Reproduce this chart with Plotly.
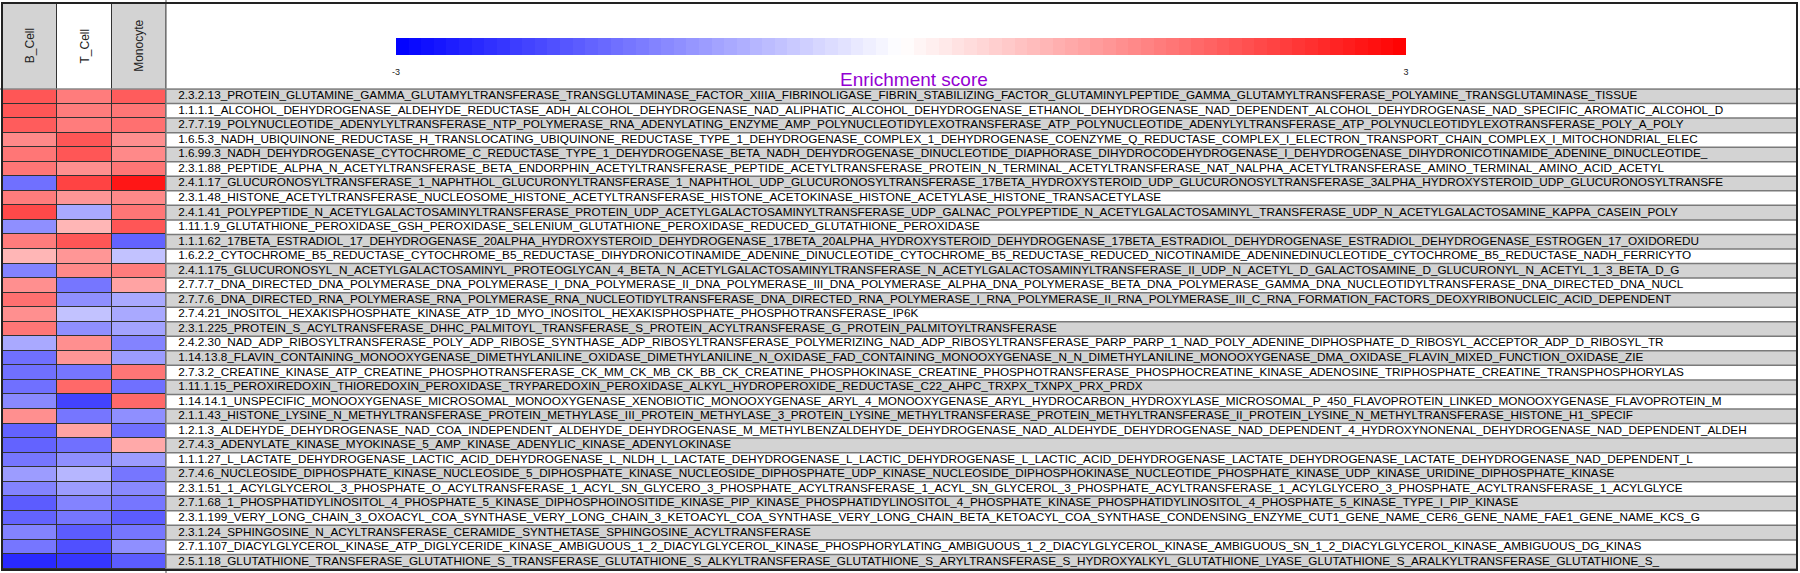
import plotly.graph_objects as go

W, H = 1800, 573

samples = ["B_Cell", "T_Cell", "Monocyte"]

pathways = [
    "2.3.2.13_PROTEIN_GLUTAMINE_GAMMA_GLUTAMYLTRANSFERASE_TRANSGLUTAMINASE_FACTOR_XIIIA_FIBRINOLIGASE_FIBRIN_STABILIZING_FACTOR_GLUTAMINYLPEPTIDE_GAMMA_GLUTAMYLTRANSFERASE_POLYAMINE_TRANSGLUTAMINASE_TISSUE",
    "1.1.1.1_ALCOHOL_DEHYDROGENASE_ALDEHYDE_REDUCTASE_ADH_ALCOHOL_DEHYDROGENASE_NAD_ALIPHATIC_ALCOHOL_DEHYDROGENASE_ETHANOL_DEHYDROGENASE_NAD_DEPENDENT_ALCOHOL_DEHYDROGENASE_NAD_SPECIFIC_AROMATIC_ALCOHOL_D",
    "2.7.7.19_POLYNUCLEOTIDE_ADENYLYLTRANSFERASE_NTP_POLYMERASE_RNA_ADENYLATING_ENZYME_AMP_POLYNUCLEOTIDYLEXOTRANSFERASE_ATP_POLYNUCLEOTIDE_ADENYLYLTRANSFERASE_ATP_POLYNUCLEOTIDYLEXOTRANSFERASE_POLY_A_POLY",
    "1.6.5.3_NADH_UBIQUINONE_REDUCTASE_H_TRANSLOCATING_UBIQUINONE_REDUCTASE_TYPE_1_DEHYDROGENASE_COMPLEX_1_DEHYDROGENASE_COENZYME_Q_REDUCTASE_COMPLEX_I_ELECTRON_TRANSPORT_CHAIN_COMPLEX_I_MITOCHONDRIAL_ELEC",
    "1.6.99.3_NADH_DEHYDROGENASE_CYTOCHROME_C_REDUCTASE_TYPE_1_DEHYDROGENASE_BETA_NADH_DEHYDROGENASE_DINUCLEOTIDE_DIAPHORASE_DIHYDROCODEHYDROGENASE_I_DEHYDROGENASE_DIHYDRONICOTINAMIDE_ADENINE_DINUCLEOTIDE_",
    "2.3.1.88_PEPTIDE_ALPHA_N_ACETYLTRANSFERASE_BETA_ENDORPHIN_ACETYLTRANSFERASE_PEPTIDE_ACETYLTRANSFERASE_PROTEIN_N_TERMINAL_ACETYLTRANSFERASE_NAT_NALPHA_ACETYLTRANSFERASE_AMINO_TERMINAL_AMINO_ACID_ACETYL",
    "2.4.1.17_GLUCURONOSYLTRANSFERASE_1_NAPHTHOL_GLUCURONYLTRANSFERASE_1_NAPHTHOL_UDP_GLUCURONOSYLTRANSFERASE_17BETA_HYDROXYSTEROID_UDP_GLUCURONOSYLTRANSFERASE_3ALPHA_HYDROXYSTEROID_UDP_GLUCURONOSYLTRANSFE",
    "2.3.1.48_HISTONE_ACETYLTRANSFERASE_NUCLEOSOME_HISTONE_ACETYLTRANSFERASE_HISTONE_ACETOKINASE_HISTONE_ACETYLASE_HISTONE_TRANSACETYLASE",
    "2.4.1.41_POLYPEPTIDE_N_ACETYLGALACTOSAMINYLTRANSFERASE_PROTEIN_UDP_ACETYLGALACTOSAMINYLTRANSFERASE_UDP_GALNAC_POLYPEPTIDE_N_ACETYLGALACTOSAMINYL_TRANSFERASE_UDP_N_ACETYLGALACTOSAMINE_KAPPA_CASEIN_POLY",
    "1.11.1.9_GLUTATHIONE_PEROXIDASE_GSH_PEROXIDASE_SELENIUM_GLUTATHIONE_PEROXIDASE_REDUCED_GLUTATHIONE_PEROXIDASE",
    "1.1.1.62_17BETA_ESTRADIOL_17_DEHYDROGENASE_20ALPHA_HYDROXYSTEROID_DEHYDROGENASE_17BETA_20ALPHA_HYDROXYSTEROID_DEHYDROGENASE_17BETA_ESTRADIOL_DEHYDROGENASE_ESTRADIOL_DEHYDROGENASE_ESTROGEN_17_OXIDOREDU",
    "1.6.2.2_CYTOCHROME_B5_REDUCTASE_CYTOCHROME_B5_REDUCTASE_DIHYDRONICOTINAMIDE_ADENINE_DINUCLEOTIDE_CYTOCHROME_B5_REDUCTASE_REDUCED_NICOTINAMIDE_ADENINEDINUCLEOTIDE_CYTOCHROME_B5_REDUCTASE_NADH_FERRICYTO",
    "2.4.1.175_GLUCURONOSYL_N_ACETYLGALACTOSAMINYL_PROTEOGLYCAN_4_BETA_N_ACETYLGALACTOSAMINYLTRANSFERASE_N_ACETYLGALACTOSAMINYLTRANSFERASE_II_UDP_N_ACETYL_D_GALACTOSAMINE_D_GLUCURONYL_N_ACETYL_1_3_BETA_D_G",
    "2.7.7.7_DNA_DIRECTED_DNA_POLYMERASE_DNA_POLYMERASE_I_DNA_POLYMERASE_II_DNA_POLYMERASE_III_DNA_POLYMERASE_ALPHA_DNA_POLYMERASE_BETA_DNA_POLYMERASE_GAMMA_DNA_NUCLEOTIDYLTRANSFERASE_DNA_DIRECTED_DNA_NUCL",
    "2.7.7.6_DNA_DIRECTED_RNA_POLYMERASE_RNA_POLYMERASE_RNA_NUCLEOTIDYLTRANSFERASE_DNA_DIRECTED_RNA_POLYMERASE_I_RNA_POLYMERASE_II_RNA_POLYMERASE_III_C_RNA_FORMATION_FACTORS_DEOXYRIBONUCLEIC_ACID_DEPENDENT",
    "2.7.4.21_INOSITOL_HEXAKISPHOSPHATE_KINASE_ATP_1D_MYO_INOSITOL_HEXAKISPHOSPHATE_PHOSPHOTRANSFERASE_IP6K",
    "2.3.1.225_PROTEIN_S_ACYLTRANSFERASE_DHHC_PALMITOYL_TRANSFERASE_S_PROTEIN_ACYLTRANSFERASE_G_PROTEIN_PALMITOYLTRANSFERASE",
    "2.4.2.30_NAD_ADP_RIBOSYLTRANSFERASE_POLY_ADP_RIBOSE_SYNTHASE_ADP_RIBOSYLTRANSFERASE_POLYMERIZING_NAD_ADP_RIBOSYLTRANSFERASE_PARP_PARP_1_NAD_POLY_ADENINE_DIPHOSPHATE_D_RIBOSYL_ACCEPTOR_ADP_D_RIBOSYL_TR",
    "1.14.13.8_FLAVIN_CONTAINING_MONOOXYGENASE_DIMETHYLANILINE_OXIDASE_DIMETHYLANILINE_N_OXIDASE_FAD_CONTAINING_MONOOXYGENASE_N_N_DIMETHYLANILINE_MONOOXYGENASE_DMA_OXIDASE_FLAVIN_MIXED_FUNCTION_OXIDASE_ZIE",
    "2.7.3.2_CREATINE_KINASE_ATP_CREATINE_PHOSPHOTRANSFERASE_CK_MM_CK_MB_CK_BB_CK_CREATINE_PHOSPHOKINASE_CREATINE_PHOSPHOTRANSFERASE_PHOSPHOCREATINE_KINASE_ADENOSINE_TRIPHOSPHATE_CREATINE_TRANSPHOSPHORYLAS",
    "1.11.1.15_PEROXIREDOXIN_THIOREDOXIN_PEROXIDASE_TRYPAREDOXIN_PEROXIDASE_ALKYL_HYDROPEROXIDE_REDUCTASE_C22_AHPC_TRXPX_TXNPX_PRX_PRDX",
    "1.14.14.1_UNSPECIFIC_MONOOXYGENASE_MICROSOMAL_MONOOXYGENASE_XENOBIOTIC_MONOOXYGENASE_ARYL_4_MONOOXYGENASE_ARYL_HYDROCARBON_HYDROXYLASE_MICROSOMAL_P_450_FLAVOPROTEIN_LINKED_MONOOXYGENASE_FLAVOPROTEIN_M",
    "2.1.1.43_HISTONE_LYSINE_N_METHYLTRANSFERASE_PROTEIN_METHYLASE_III_PROTEIN_METHYLASE_3_PROTEIN_LYSINE_METHYLTRANSFERASE_PROTEIN_METHYLTRANSFERASE_II_PROTEIN_LYSINE_N_METHYLTRANSFERASE_HISTONE_H1_SPECIF",
    "1.2.1.3_ALDEHYDE_DEHYDROGENASE_NAD_COA_INDEPENDENT_ALDEHYDE_DEHYDROGENASE_M_METHYLBENZALDEHYDE_DEHYDROGENASE_NAD_ALDEHYDE_DEHYDROGENASE_NAD_DEPENDENT_4_HYDROXYNONENAL_DEHYDROGENASE_NAD_DEPENDENT_ALDEH",
    "2.7.4.3_ADENYLATE_KINASE_MYOKINASE_5_AMP_KINASE_ADENYLIC_KINASE_ADENYLOKINASE",
    "1.1.1.27_L_LACTATE_DEHYDROGENASE_LACTIC_ACID_DEHYDROGENASE_L_NLDH_L_LACTATE_DEHYDROGENASE_L_LACTIC_DEHYDROGENASE_L_LACTIC_ACID_DEHYDROGENASE_LACTATE_DEHYDROGENASE_LACTATE_DEHYDROGENASE_NAD_DEPENDENT_L",
    "2.7.4.6_NUCLEOSIDE_DIPHOSPHATE_KINASE_NUCLEOSIDE_5_DIPHOSPHATE_KINASE_NUCLEOSIDE_DIPHOSPHATE_UDP_KINASE_NUCLEOSIDE_DIPHOSPHOKINASE_NUCLEOTIDE_PHOSPHATE_KINASE_UDP_KINASE_URIDINE_DIPHOSPHATE_KINASE",
    "2.3.1.51_1_ACYLGLYCEROL_3_PHOSPHATE_O_ACYLTRANSFERASE_1_ACYL_SN_GLYCERO_3_PHOSPHATE_ACYLTRANSFERASE_1_ACYL_SN_GLYCEROL_3_PHOSPHATE_ACYLTRANSFERASE_1_ACYLGLYCERO_3_PHOSPHATE_ACYLTRANSFERASE_1_ACYLGLYCE",
    "2.7.1.68_1_PHOSPHATIDYLINOSITOL_4_PHOSPHATE_5_KINASE_DIPHOSPHOINOSITIDE_KINASE_PIP_KINASE_PHOSPHATIDYLINOSITOL_4_PHOSPHATE_KINASE_PHOSPHATIDYLINOSITOL_4_PHOSPHATE_5_KINASE_TYPE_I_PIP_KINASE",
    "2.3.1.199_VERY_LONG_CHAIN_3_OXOACYL_COA_SYNTHASE_VERY_LONG_CHAIN_3_KETOACYL_COA_SYNTHASE_VERY_LONG_CHAIN_BETA_KETOACYL_COA_SYNTHASE_CONDENSING_ENZYME_CUT1_GENE_NAME_CER6_GENE_NAME_FAE1_GENE_NAME_KCS_G",
    "2.3.1.24_SPHINGOSINE_N_ACYLTRANSFERASE_CERAMIDE_SYNTHETASE_SPHINGOSINE_ACYLTRANSFERASE",
    "2.7.1.107_DIACYLGLYCEROL_KINASE_ATP_DIGLYCERIDE_KINASE_AMBIGUOUS_1_2_DIACYLGLYCEROL_KINASE_PHOSPHORYLATING_AMBIGUOUS_1_2_DIACYLGLYCEROL_KINASE_AMBIGUOUS_SN_1_2_DIACYLGLYCEROL_KINASE_AMBIGUOUS_DG_KINAS",
    "2.5.1.18_GLUTATHIONE_TRANSFERASE_GLUTATHIONE_S_TRANSFERASE_GLUTATHIONE_S_ALKYLTRANSFERASE_GLUTATHIONE_S_ARYLTRANSFERASE_S_HYDROXYALKYL_GLUTATHIONE_LYASE_GLUTATHIONE_S_ARALKYLTRANSFERASE_GLUTATHIONE_S_",
]

b_cell = [2.0, 2.0, 1.9, 1.4, 1.6, 1.6, -1.7, 1.5, 2.1, -1.3, 1.5, 0.9, -1.5, 1.3, 1.7, 1.3, 1.6,
          -1.0, -1.7, -1.7, -1.7, -1.4, 1.3, -1.8, -1.8, -1.6, -1.2, -1.5, -1.9, -1.8, -1.5, -1.6, -2.5]
t_cell = [1.5, 1.5, 1.5, 2.0, 2.0, 1.3, 2.2, 1.2, -1.0, 0.9, 2.0, 1.2, 1.4, -1.6, -1.3, -0.7, -1.3,
          1.3, 1.2, -1.6, 1.8, -2.2, -1.6, 1.1, -1.7, -1.3, -0.9, -1.2, -1.5, -1.6, -1.9, -2.1, -2.4]
monocyte = [1.9, 1.6, 1.7, 1.3, 1.4, 1.6, 2.7, 1.4, 1.6, 2.0, -1.8, -0.7, 1.5, 1.1, -1.0, -1.0, -1.1,
            -1.5, -1.2, 1.6, -1.7, 1.8, -1.3, -1.7, 1.0, -1.2, -1.6, -1.4, -1.6, -1.9, -1.6, -1.3, -1.9]

score_min, score_max = -3, 3
cbar_ticks = [-3, 3]
cbar_title = "Enrichment score"


def px_x(x):
    return x / W


def px_y(y):
    return 1 - y / H


# stepped blue-white-red palette
n_steps = 80
def ramp(t):
    if t < 0.5:
        f = t / 0.5
        return (round(255 * f), round(255 * f), 255)
    f = (t - 0.5) / 0.5
    return (255, round(255 * (1 - f)), round(255 * (1 - f)))

colorscale = []
for i in range(n_steps):
    r, g, b = ramp((i + 0.5) / n_steps)
    c = f"rgb({r},{g},{b})"
    colorscale.append([i / n_steps, c])
    colorscale.append([(i + 1) / n_steps, c])

n = len(pathways)
rows = list(range(n))
z = [[b_cell[i], t_cell[i], monocyte[i]] for i in rows]

FONT = "Arial, Liberation Sans, sans-serif"

fig = go.Figure()

# main heatmap
fig.add_trace(go.Heatmap(
    z=z, x=samples, y=rows, xaxis="x", yaxis="y",
    zmin=score_min, zmax=score_max, colorscale=colorscale,
    xgap=1, ygap=1, hoverongaps=False,
    colorbar=dict(
        orientation="h", x=px_x(901), xanchor="center", y=px_y(38), yanchor="top",
        len=1010, lenmode="pixels", thickness=17, thicknessmode="pixels",
        outlinewidth=0, xpad=0, ypad=0,
        tickvals=cbar_ticks, ticktext=[str(v) for v in cbar_ticks],
        ticks="outside", ticklen=10, tickcolor="rgba(0,0,0,0)",
        tickfont=dict(size=9, family=FONT, color="#222"),
    ),
))

# header boxes over heatmap columns
fig.add_trace(go.Heatmap(
    z=[[0, 1, 0]], x=samples, y=[0], xaxis="x", yaxis="y2",
    colorscale=[[0, "#d3d3d3"], [1, "#ffffff"]], showscale=False,
    xgap=1, hoverinfo="skip",
))

# alternating label row background
fig.add_trace(go.Heatmap(
    z=[[i % 2] for i in rows], x=[0.5], y=rows, xaxis="x2", yaxis="y",
    colorscale=[[0, "#d3d3d3"], [1, "#ffffff"]], showscale=False,
    hoverinfo="skip",
))

# labels
fig.add_trace(go.Scatter(
    x=[0.0075] * n, y=rows, text=pathways, mode="text", xaxis="x2", yaxis="y",
    textposition="middle right", hoverinfo="skip",
    textfont=dict(size=11.75, family=FONT, color="#000"),
    showlegend=False,
))

fig.update_layout(
    width=W, height=H,
    margin=dict(l=0, r=0, t=0, b=0, autoexpand=False),
    paper_bgcolor="white", plot_bgcolor="#333333",
    showlegend=False,
    xaxis=dict(domain=[px_x(3), px_x(166)], showticklabels=False, showgrid=False,
               zeroline=False, ticks=""),
    xaxis2=dict(domain=[px_x(166), px_x(1797)], range=[0, 1], showticklabels=False,
                showgrid=False, zeroline=False, ticks=""),
    yaxis=dict(domain=[px_y(569), px_y(89)], range=[n - 0.5, -0.5], showticklabels=False,
               showgrid=False, zeroline=False, ticks=""),
    yaxis2=dict(domain=[px_y(89), px_y(3)], range=[-0.5, 0.5], showticklabels=False,
                showgrid=False, zeroline=False, ticks=""),
)

# row separators in label area
for i in range(n + 1):
    fig.add_shape(type="line", xref="x2 domain", yref="y", x0=0, x1=1,
                  y0=i - 0.5, y1=i - 0.5, line=dict(color="#7a7a7a", width=1.5))

# header texts
for s in samples:
    fig.add_annotation(x=s, y=0, xref="x", yref="y2", text=s, textangle=-90,
                       showarrow=False, font=dict(size=12, family=FONT, color="#222"))

# colorbar title
fig.add_annotation(x=px_x(914), y=px_y(67), xref="paper", yref="paper", text=cbar_title,
                   showarrow=False, font=dict(size=19, family=FONT, color="#9400D3"))

# frame lines
fig.add_shape(type="line", xref="paper", yref="paper", x0=px_x(166), x1=px_x(166),
              y0=0, y1=1, line=dict(color="#888", width=1.5))
fig.add_shape(type="line", xref="paper", yref="paper", x0=0, x1=1,
              y0=px_y(89), y1=px_y(89), line=dict(color="#888", width=1.5))
fig.add_shape(type="rect", xref="paper", yref="paper", x0=px_x(2), x1=px_x(1797),
              y0=px_y(570), y1=px_y(3), line=dict(color="#222", width=2))

fig.write_html("out.html", config={"displayModeBar": False},
               post_script="document.body.style.margin='0';document.body.style.overflow='hidden';")
